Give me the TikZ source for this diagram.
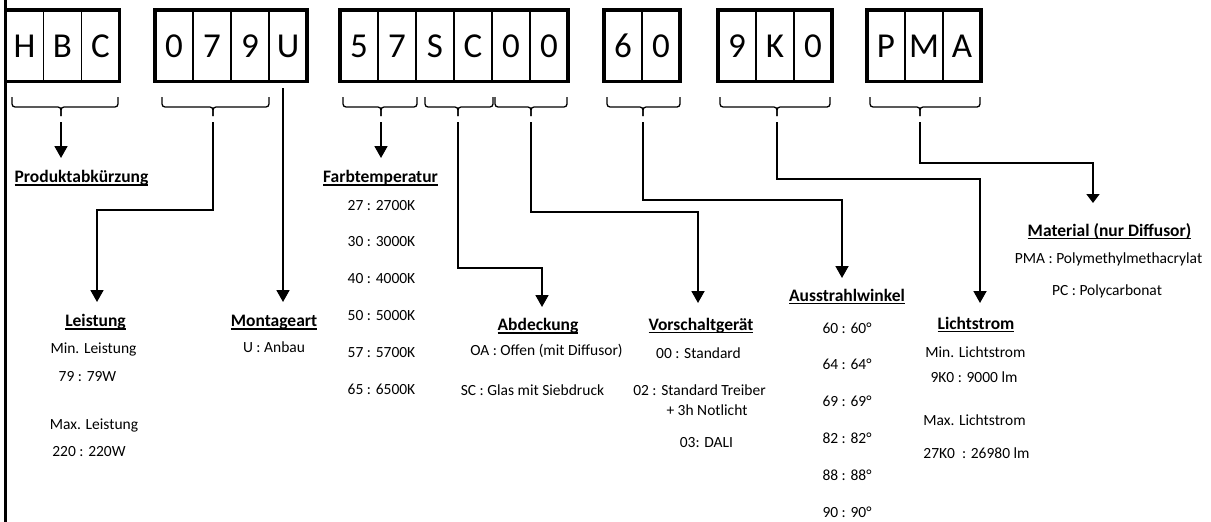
\documentclass[tikz,border=0pt]{standalone}
\usepackage{fontspec}
\setmainfont{Carlito}
\usetikzlibrary{arrows.meta}
\newsavebox\hdbox
\newcommand{\hd}[1]{\sbox\hdbox{#1}\rlap{\rule[-3.25pt]{\wd\hdbox}{1.5pt}}\usebox\hdbox}
\begin{document}
\begin{tikzpicture}[x=1pt,y=-1pt,
  cell/.style={draw,line width=1.3pt,minimum width=38pt,minimum height=71.7pt,inner sep=0pt,outer sep=0pt,anchor=north west,text height=22.5pt,text depth=0pt,font=\fontsize{35}{40}\selectfont},
  outerbox/.style={draw,line width=3.4pt},
  br/.style={draw,line width=1.3pt,rounded corners=3pt},
  conn/.style={draw,line width=1.8pt,-{Triangle[width=13pt,length=12pt]}},
  hdg/.style={inner sep=0pt,anchor=base,font=\fontsize{17.5}{20}\selectfont\bfseries},
  itm/.style={inner sep=0pt,anchor=base,font=\fontsize{15.5}{18}\selectfont}]
\useasboundingbox (0,0) rectangle (1211,522);
% left bar
\draw[line width=3.5pt] (5.5,0) -- (5.5,522);
% code boxes
\foreach \t [count=\i] in {H,B,C} \node[cell] (hbc\i) at ({5.5+38*(\i-1)},10) {\t};
\draw[outerbox] (hbc1.north west) rectangle (hbc3.south east);
\foreach \t [count=\i] in {0,7,9,U} \node[cell] (pw\i) at ({155+38*(\i-1)},10) {\t};
\draw[outerbox] (pw1.north west) rectangle (pw4.south east);
\foreach \t [count=\i] in {5,7,S,C,0,0} \node[cell] (ct\i) at ({340+38*(\i-1)},10) {\t};
\draw[outerbox] (ct1.north west) rectangle (ct6.south east);
\foreach \t [count=\i] in {6,0} \node[cell] (aw\i) at ({604+38*(\i-1)},10) {\t};
\draw[outerbox] (aw1.north west) rectangle (aw2.south east);
\foreach \t [count=\i] in {9,K,0} \node[cell] (ls\i) at ({718+38*(\i-1)},10) {\t};
\draw[outerbox] (ls1.north west) rectangle (ls3.south east);
\foreach \t [count=\i] in {P,M,A} \node[cell] (ma\i) at ({867+38*(\i-1)},10) {\t};
\draw[outerbox] (ma1.north west) rectangle (ma3.south east);
% brackets
\foreach \a/\b/\c in {12/118/61, 162/269/213, 343/417/381, 425/493/458, 495/567/531, 607/680/643, 720/830/777, 870/980/920}{
  \draw[br] (\a,97) -- (\a,107) -- (\c,107) -- (\c,116);
  \draw[br] (\b,97) -- (\b,107) -- (\c,107) -- (\c,116);
}
% connector coordinates
\coordinate (sHBC) at (61,122);   \coordinate (tProd) at (61,158);
\coordinate (s079) at (213,122);  \coordinate (k079) at (97,210);   \coordinate (tLeist) at (97,302);
\coordinate (sU) at (283,88);     \coordinate (tMont) at (283,302);
\coordinate (s57) at (381,122);   \coordinate (tFarb) at (381,158);
\coordinate (sSC) at (458,122);   \coordinate (kSC) at (542,268);   \coordinate (tAbd) at (542,307);
\coordinate (s00) at (531,122);   \coordinate (k00) at (698,212);   \coordinate (tVor) at (698,303);
\coordinate (s60) at (643,122);   \coordinate (k60) at (842,200);   \coordinate (tAus) at (842,278);
\coordinate (s9K0) at (777,122);  \coordinate (k9K0) at (980,179);  \coordinate (tLicht) at (980,303);
\coordinate (sPMA) at (920,122);  \coordinate (kPMA) at (1093,163); \coordinate (tMat) at (1093,203);
\draw[conn] (sHBC) -- (tProd);
\draw[conn] (s079) |- (k079) -- (tLeist);
\draw[conn] (sU) -- (tMont);
\draw[conn] (s57) -- (tFarb);
\draw[conn] (sSC) |- (kSC) -- (tAbd);
\draw[conn] (s00) |- (k00) -- (tVor);
\draw[conn] (s60) |- (k60) -- (tAus);
\draw[conn] (s9K0) |- (k9K0) -- (tLicht);
\draw[conn,-{Triangle[width=13pt,length=9pt]}] (sPMA) |- (kPMA) -- (tMat);
% headings
\node[hdg] (hProd) at (81.5,182.5) {\hd{Produktabkürzung}};
\node[hdg] (hLeist) at (95.5,326.5) {\hd{Leistung}};
\node[hdg] (hMont) at (274,326.5) {\hd{Montageart}};
\node[hdg] (hFarb) at (380.5,182.5) {\hd{Farbtemperatur}};
\node[hdg] (hAbd) at (538,330.5) {\hd{Abdeckung}};
\node[hdg] (hVor) at (701,330) {\hd{Vorschaltgerät}};
\node[hdg] (hAus) at (847,301) {\hd{Ausstrahlwinkel}};
\node[hdg] (hLicht) at (976,329) {\hd{Lichtstrom}};
\node[hdg] (hMat) at (1109.5,236) {\hd{Material (nur Diffusor)}};
% items
\node[itm] (l1) at (93.5,353) {Min. Leistung};
\node[itm] (l2) at (87.5,381) {79 : 79W};
\node[itm] (l3) at (94,429) {Max. Leistung};
\node[itm] (l4) at (89,456) {220 : 220W};
\node[itm] (m1) at (274,352) {U : Anbau};
\foreach \t [count=\i] in {27 : 2700K,30 : 3000K,40 : 4000K,50 : 5000K,57 : 5700K,65 : 6500K}
  \node[itm] (f\i) at ({381.5},{210+36.8*(\i-1)}) {\t};
\node[itm] (a1) at (546.5,355) {OA : Offen (mit Diffusor)};
\node[itm] (a2) at (532.5,395) {SC : Glas mit Siebdruck};
\node[itm] (v1) at (698.5,358) {00 : Standard};
\node[itm] (v2) at (699.5,395) {02 : Standard Treiber};
\node[itm] (v3) at (707,415) {+ 3h Notlicht};
\node[itm] (v4) at (706.5,447) {03: DALI};
\foreach \t [count=\i] in {60 : 60°,64 : 64°,69 : 69°,82 : 82°,88 : 88°,90 : 90°}
  \node[itm] (w\i) at (847,{333+36.8*(\i-1)}) {\t};
\node[itm] (li1) at (975.5,357) {Min. Lichtstrom};
\node[itm] (li2) at (974,382) {9K0 : 9000 lm};
\node[itm] (li3) at (974.5,425) {Max. Lichtstrom};
\node[itm] (li4) at (976.5,458) {27K0\ \ : 26980 lm};
\node[itm] (p1) at (1108.5,263) {PMA : Polymethylmethacrylat};
\node[itm] (p2) at (1107,295) {PC : Polycarbonat};
\end{tikzpicture}
\end{document}
